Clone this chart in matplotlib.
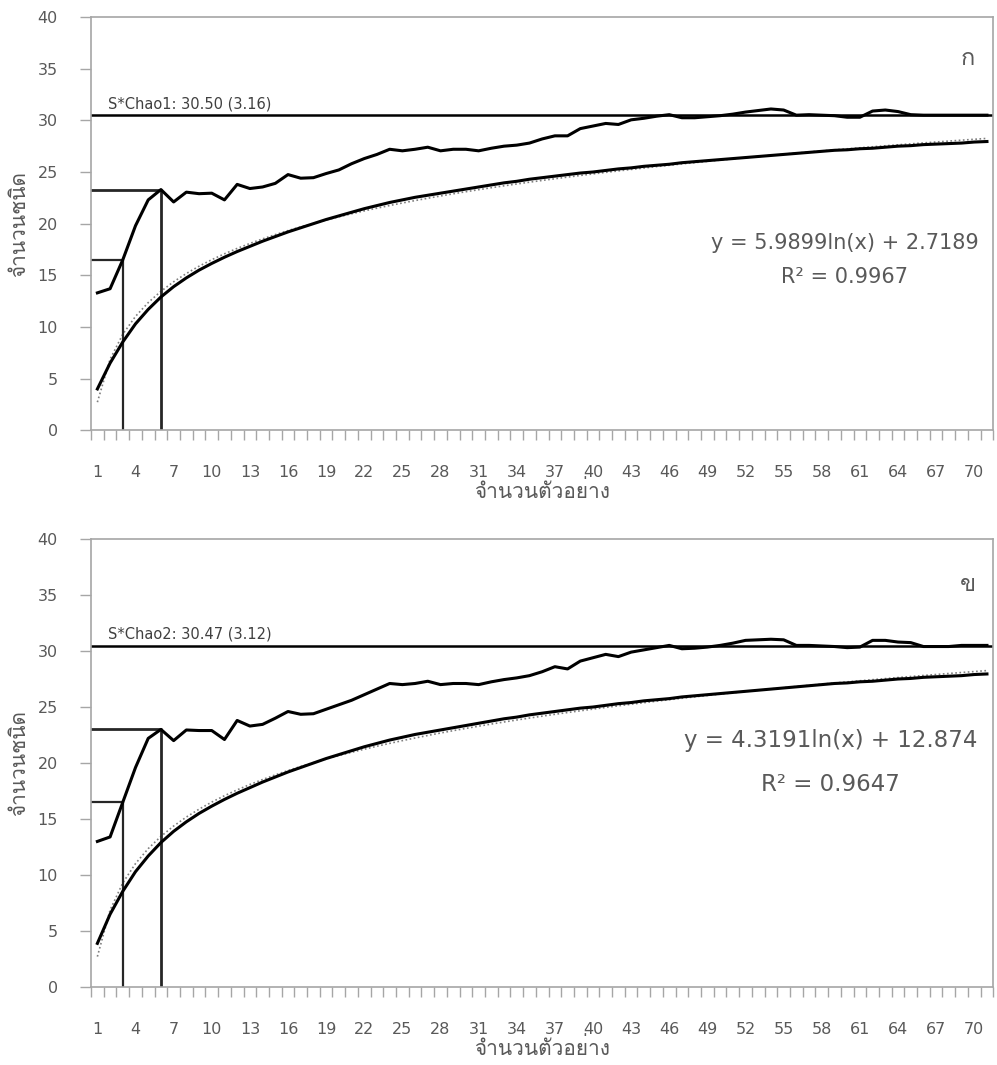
import numpy as np
import matplotlib
matplotlib.use("Agg")
import matplotlib.pyplot as plt
from matplotlib import font_manager, ft2font

# %% data
samples = np.arange(1, 72)
xtick_labels = [str(v) for v in range(1, 71, 3)]

# panel ก : observed (jagged) and Sobs (smooth)
chao1_jagged = [13.3, 13.7, 16.5, 19.8, 22.3, 23.3, 22.1, 23.05, 22.9, 22.95,
                22.3, 23.8, 23.4, 23.55, 23.9, 24.75, 24.4, 24.45, 24.85, 25.2,
                25.8, 26.3, 26.7, 27.2, 27.05, 27.2, 27.4, 27.05, 27.2, 27.2,
                27.05, 27.3, 27.5, 27.6, 27.8, 28.2, 28.5, 28.5, 29.2, 29.45,
                29.7, 29.6, 30.05, 30.2, 30.4, 30.55, 30.25, 30.25, 30.35, 30.45,
                30.6, 30.8, 30.95, 31.1, 31.0, 30.5, 30.55, 30.5, 30.45, 30.3,
                30.3, 30.9, 31.0, 30.85, 30.55, 30.5, 30.5, 30.5, 30.5, 30.5, 30.5]
sobs_top = [4.0, 6.5, 8.55, 10.3, 11.7, 12.9, 13.9, 14.75, 15.5, 16.15,
            16.75, 17.3, 17.8, 18.3, 18.75, 19.2, 19.6, 20.0, 20.4, 20.75,
            21.1, 21.45, 21.75, 22.05, 22.3, 22.55, 22.75, 22.95, 23.15, 23.35,
            23.55, 23.75, 23.95, 24.1, 24.3, 24.45, 24.6, 24.75, 24.9, 25.0,
            25.15, 25.3, 25.4, 25.55, 25.65, 25.75, 25.9, 26.0, 26.1, 26.2,
            26.3, 26.4, 26.5, 26.6, 26.7, 26.8, 26.9, 27.0, 27.1, 27.15,
            27.25, 27.3, 27.4, 27.5, 27.55, 27.65, 27.7, 27.75, 27.8, 27.9, 27.95]

# panel ข
chao2_jagged = [13.0, 13.4, 16.5, 19.6, 22.2, 23.0, 22.0, 22.95, 22.9, 22.9,
                22.1, 23.8, 23.3, 23.45, 24.0, 24.6, 24.35, 24.4, 24.8, 25.2,
                25.6, 26.1, 26.6, 27.1, 27.0, 27.1, 27.3, 27.0, 27.1, 27.1,
                27.0, 27.25, 27.45, 27.6, 27.8, 28.15, 28.6, 28.4, 29.1, 29.4,
                29.7, 29.5, 29.9, 30.1, 30.3, 30.5, 30.2, 30.25, 30.35, 30.5,
                30.7, 30.95, 31.0, 31.05, 31.0, 30.5, 30.5, 30.45, 30.4, 30.3,
                30.35, 30.95, 30.95, 30.8, 30.75, 30.4, 30.4, 30.4, 30.5, 30.5, 30.5]
sobs_bot = [3.9, 6.5, 8.55, 10.3, 11.7, 12.9, 13.9, 14.75, 15.5, 16.15,
            16.75, 17.3, 17.8, 18.3, 18.75, 19.2, 19.6, 20.0, 20.4, 20.75,
            21.1, 21.45, 21.75, 22.05, 22.3, 22.55, 22.75, 22.95, 23.15, 23.35,
            23.55, 23.75, 23.95, 24.1, 24.3, 24.45, 24.6, 24.75, 24.9, 25.0,
            25.15, 25.3, 25.4, 25.55, 25.65, 25.75, 25.9, 26.0, 26.1, 26.2,
            26.3, 26.4, 26.5, 26.6, 26.7, 26.8, 26.9, 27.0, 27.1, 27.15,
            27.25, 27.3, 27.4, 27.5, 27.55, 27.65, 27.7, 27.75, 27.8, 27.9, 27.95]

chao_est = [30.50, 30.47]
chao_sd = [3.16, 3.12]
chao_names = ["S*Chao1", "S*Chao2"]
mark_small = [16.5, 16.5]   # value at sample 3
mark_big = [23.3, 23.0]     # value at sample 6
fit_a, fit_b = 5.9899, 2.7189  # trendline drawn (log fit)
eq_text = ["y = 5.9899ln(x) + 2.7189", "y = 4.3191ln(x) + 12.874"]
r2_text = ["R² = 0.9967", "R² = 0.9647"]
panel_letters = ["ก", "ข"]

# pick an installed font that has Thai glyphs
thai = set()
for f in font_manager.fontManager.ttflist:
    try:
        if ft2font.FT2Font(f.fname).get_char_index(0x0E08):
            thai.add(f.name)
    except Exception:
        pass
thai_font = "DejaVu Sans"
for name in ["Loma", "Garuda", "Noto Sans Thai", "Sarabun", "Anuphan"] + sorted(thai):
    if name in thai:
        thai_font = name
        break

plt.rcParams['font.family'] = ['DejaVu Sans', thai_font]
grey = "#595959"
axcol = "#a6a6a6"

fig = plt.figure(figsize=(9.97, 10.65), dpi=100)
ax_top = fig.add_axes([0.0913, 0.596, 0.905, 0.388])
ax_bot = fig.add_axes([0.0913, 0.0732, 0.905, 0.4207])

panels = [(ax_top, chao1_jagged, sobs_top), (ax_bot, chao2_jagged, sobs_bot)]
eq_pos = [(0.835, 0.453, 0.37), (0.82, 0.551, 0.451)]
eq_size = [15, 16.5]
for k, (ax, jag, sobs) in enumerate(panels):
    trend = fit_a * np.log(samples) + fit_b
    ax.plot(samples, trend, color="#7f7f7f", lw=1.2, ls=(0, (1, 1.5)), zorder=2)
    ax.plot(samples, sobs, color="black", lw=2.2, zorder=3)
    ax.plot(samples, jag, color="black", lw=2.2, zorder=3)
    ax.axhline(chao_est[k], color="black", lw=1.8, zorder=2)
    ax.text(1.8, chao_est[k] + 0.4, "%s: %.2f (%.2f)" % (chao_names[k], chao_est[k], chao_sd[k]),
            fontsize=10.5, color="#404040", va="bottom", ha="left")
    # marker lines at sample 3 and 6
    ax.plot([0.5, 3, 3], [mark_small[k], mark_small[k], 0], color="#262626", lw=1.6, zorder=2)
    ax.plot([0.5, 6, 6], [mark_big[k], mark_big[k], 0], color="#262626", lw=2.0, zorder=2)

    ax.set_xlim(0.5, 71.5)
    ax.set_ylim(0, 40)
    ax.set_yticks(range(0, 41, 5))
    ax.set_xticks(range(1, 71, 3))
    ax.set_xticklabels(xtick_labels)
    ax.set_xticks(np.arange(0.5, 71.6, 1), minor=True)
    ax.tick_params(axis="x", which="major", length=0, pad=25, labelsize=11.5, labelcolor=grey)
    ax.tick_params(axis="x", which="minor", length=7, color=axcol, width=1)
    ax.tick_params(axis="y", length=8, color=axcol, width=1, pad=16, labelsize=11.5, labelcolor=grey)
    for s in ax.spines.values():
        s.set_color(axcol)
        s.set_linewidth(1.2)
    ax.set_ylabel("จำนวนชนิด", fontsize=15, color=grey, labelpad=6)
    ax.set_xlabel("จำนวนตัวอย่าง", fontsize=15, color=grey, labelpad=0)
    ax.text(eq_pos[k][0], eq_pos[k][1], eq_text[k], transform=ax.transAxes,
            fontsize=eq_size[k], color=grey, ha="center", va="center")
    ax.text(eq_pos[k][0], eq_pos[k][2], r2_text[k], transform=ax.transAxes,
            fontsize=eq_size[k], color=grey, ha="center", va="center")
    ax.text(0.972, 0.9, panel_letters[k], transform=ax.transAxes,
            fontsize=17, color=grey, ha="center", va="center")

fig.savefig("out.png", dpi=100)
